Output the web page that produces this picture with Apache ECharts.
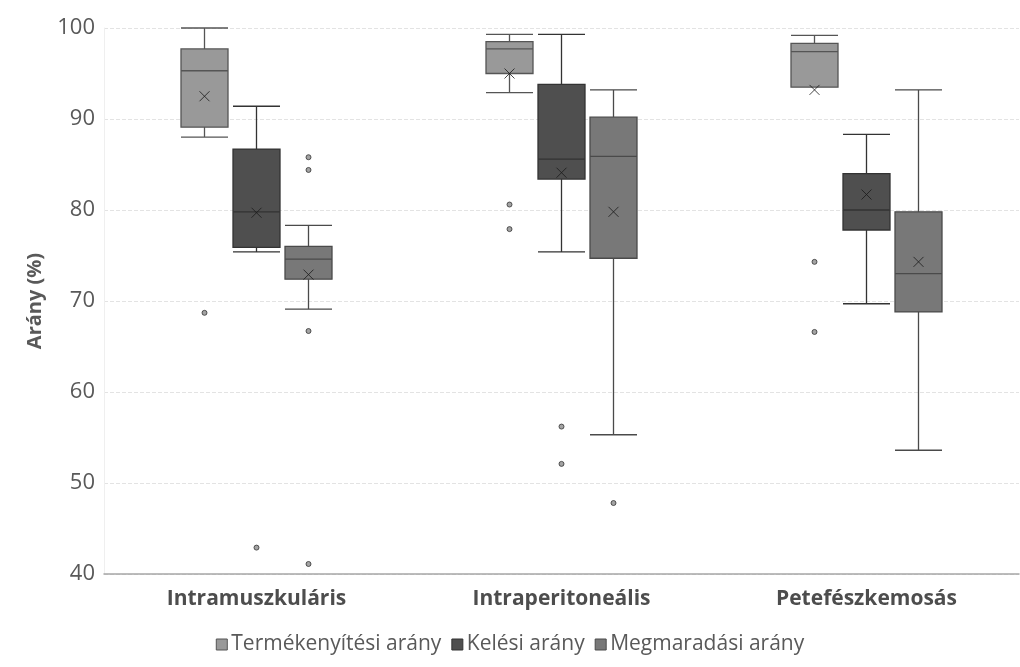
<!DOCTYPE html>
<html>
<head>
<meta charset="utf-8">
<script src="https://cdn.jsdelivr.net/npm/echarts@6/dist/echarts.min.js"></script>
<style>html,body{margin:0;padding:0;background:#fff}#c{width:1020px;height:667px}</style>
</head>
<body>
<div id="c"></div>
<script>
const categories = ['Intramuszkuláris', 'Intraperitoneális', 'Petefészkemosás'];
const seriesNames = ['Termékenyítési arány', 'Kelési arány', 'Megmaradási arány'];
const yTicks = [40, 50, 60, 70, 80, 90, 100];

// [min, Q1, median, Q3, max]
const fertBox = [[88.0, 89.1, 95.3, 97.7, 100], [92.9, 95.0, 97.7, 98.5, 99.3], [93.5, 93.5, 97.4, 98.3, 99.2]];
const fertMean = [92.5, 95.0, 93.2];
const fertOut = [[0, 68.7], [1, 80.6], [1, 77.9], [2, 74.3], [2, 66.6]];

const hatchBox = [[75.4, 75.9, 79.8, 86.7, 91.4], [75.4, 83.4, 85.6, 93.8, 99.3], [69.7, 77.8, 80.0, 84.0, 88.3]];
const hatchMean = [79.7, 84.1, 81.7];
const hatchOut = [[0, 42.9], [1, 56.2], [1, 52.1]];

const survBox = [[69.1, 72.4, 74.6, 76.0, 78.3], [55.3, 74.7, 85.9, 90.2, 93.2], [53.6, 68.8, 73.0, 79.8, 93.2]];
const survMean = [72.9, 79.8, 74.3];
const survOut = [[0, 85.8], [0, 84.4], [0, 66.7], [0, 41.1], [1, 47.8]];

const fills = ['#999999', '#4f4f4f', '#787878'];
const borders = ['#555555', '#333333', '#4a4a4a'];

const chart = echarts.init(document.getElementById('c'));
const W = 915, LEFT = 104, SHIFT = 52, TOP = 28, H = 546;
const grids = [LEFT, LEFT - SHIFT, LEFT + SHIFT].map(l => ({
  left: l, width: W, top: TOP, height: H, outerBoundsMode: 'none', containLabel: false
}));
const fontFamily = '"Open Sans", "Noto Sans", sans-serif';

const xAxes = grids.map((g, i) => ({
  type: 'category', gridIndex: i, data: categories,
  show: i === 0,
  axisLine: { show: true, lineStyle: { color: '#a6a6a6', width: 1.5 } },
  axisTick: { show: false },
  axisLabel: { show: true, margin: 15, fontSize: 21, fontWeight: 'bold', color: '#4d4d4d', fontFamily: fontFamily }
}));
const yAxes = grids.map((g, i) => ({
  type: 'value', gridIndex: i, min: 40, max: 100, interval: 10,
  show: i === 0,
  name: i === 0 ? 'Arány (%)' : '',
  nameLocation: 'middle', nameGap: 59, nameRotate: 90,
  nameTextStyle: { fontSize: 20, fontWeight: 'bold', color: '#595959', fontFamily: fontFamily },
  axisLine: { show: true, lineStyle: { color: '#efefef', width: 1 } }, axisTick: { show: false },
  axisLabel: { margin: 9, fontSize: 22, color: '#595959', fontFamily: fontFamily,
    formatter: v => (yTicks.indexOf(v) >= 0 ? String(v) : '') },
  splitLine: { show: i === 0, lineStyle: { color: '#e3e3e3', type: [4, 2], width: 1 } }
}));

const boxData = [fertBox, hatchBox, survBox];
const meanData = [fertMean, hatchMean, survMean];
const outData = [fertOut, hatchOut, survOut];
const gridOf = [1, 0, 2];

const series = [];
seriesNames.forEach((name, i) => {
  series.push({
    name: name, type: 'boxplot', xAxisIndex: gridOf[i], yAxisIndex: gridOf[i],
    boxWidth: [47, 47],
    itemStyle: { color: fills[i], borderColor: borders[i], borderWidth: 1.3 },
    emphasis: { disabled: true },
    data: boxData[i]
  });
});
seriesNames.forEach((name, i) => {
  series.push({
    name: name + ' átlag', type: 'scatter', xAxisIndex: gridOf[i], yAxisIndex: gridOf[i],
    symbol: 'path://M0,0L10,10M10,0L0,10', symbolSize: 10,
    itemStyle: { color: 'none', borderColor: '#1a1a1a', borderWidth: 1 },
    emphasis: { disabled: true }, z: 5,
    data: meanData[i].map((v, k) => [k, v])
  });
  series.push({
    name: name + ' kiugró', type: 'scatter', xAxisIndex: gridOf[i], yAxisIndex: gridOf[i],
    symbol: 'circle', symbolSize: 5,
    itemStyle: { color: '#8c8c8c', borderColor: '#333333', borderWidth: 1 },
    emphasis: { disabled: true }, z: 5,
    data: outData[i]
  });
});

chart.setOption({
  backgroundColor: '#ffffff',
  animation: false,
  grid: grids,
  xAxis: xAxes,
  yAxis: yAxes,
  legend: {
    data: seriesNames.map((n, i) => ({
      name: n, icon: 'rect',
      itemStyle: { color: fills[i], borderColor: borders[i], borderWidth: 1 }
    })),
    top: 629, left: 'center',
    itemWidth: 11, itemHeight: 11, itemGap: 10,
    textStyle: { fontSize: 21, color: '#595959', fontFamily: fontFamily, padding: [0, 0, 0, -1] }
  },
  series: series
});
</script>
</body>
</html>
